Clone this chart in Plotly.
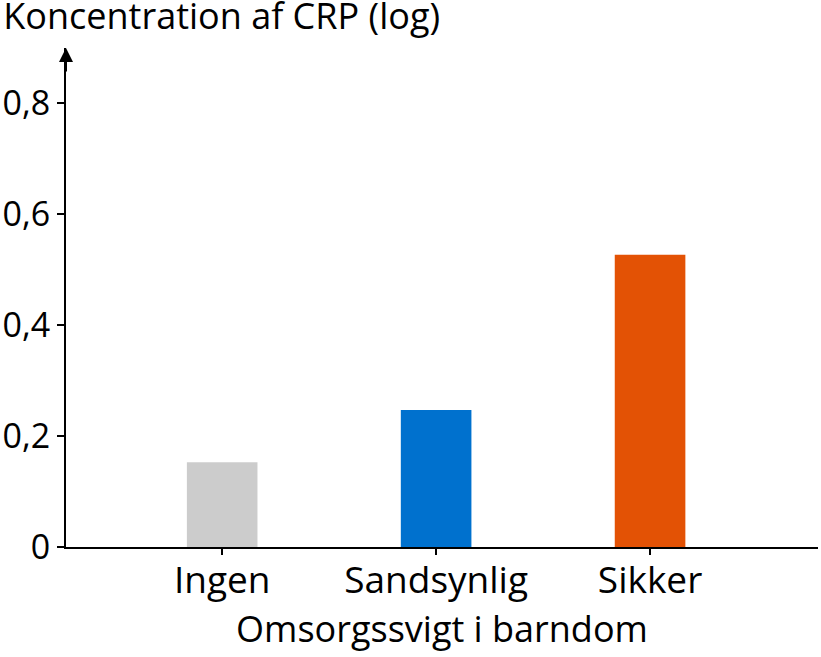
import plotly.graph_objects as go

# Data
categories = ['Ingen', 'Sandsynlig', 'Sikker']
crp_values = [0.153, 0.247, 0.527]
bar_colors = ['#cccccc', '#0071ce', '#e35205']
y_tickvals = [0, 0.2, 0.4, 0.6, 0.8]
y_ticktext = ['0', '0,2', '0,4', '0,6', '0,8']

font_family = 'Open Sans'

fig = go.Figure()
fig.add_trace(go.Bar(x=categories, y=crp_values, marker_color=bar_colors,
                     marker_line_width=0, width=0.33, showlegend=False))

fig.update_xaxes(range=[-0.73, 2.785], showline=True, linecolor='black', linewidth=2,
                 ticks='outside', ticklen=6, tickwidth=1.5, tickcolor='black',
                 showgrid=False, zeroline=False, automargin=False,
                 ticklabelstandoff=-6,
                 title_text='Omsorgssvigt i barndom', title_standoff=4,
                 title_font=dict(size=36, color='black'),
                 tickfont=dict(size=37, color='black'))
fig.update_yaxes(range=[0, 0.9], showline=True, linecolor='black', linewidth=2,
                 ticks='outside', ticklen=7, tickwidth=1.5, tickcolor='black',
                 tickvals=y_tickvals, ticktext=y_ticktext,
                 showgrid=False, zeroline=False, automargin=False,
                 tickfont=dict(size=34, color='black'))

# arrow head on top of the y axis
fig.add_annotation(x=0, y=1, xref='paper', yref='paper', ax=0, ay=25, text='',
                   showarrow=True, arrowhead=2, arrowsize=1.4, arrowwidth=2, arrowcolor='black')

fig.update_layout(title=dict(text='Koncentration af CRP (log)', xref='container', x=0.004,
                             xanchor='left', yref='container', y=1, yanchor='top',
                             pad=dict(t=4),
                             font=dict(size=36, color='black')),
                  font=dict(family=font_family, size=34, color='black'),
                  plot_bgcolor='white', paper_bgcolor='white',
                  width=821, height=657,
                  margin=dict(l=66, r=3, t=48, b=110))

# drop the default page margin so the figure starts at the window corner
fig.write_html('out.html', config={'displayModeBar': False},
               post_script="document.body.style.margin='0px';")
